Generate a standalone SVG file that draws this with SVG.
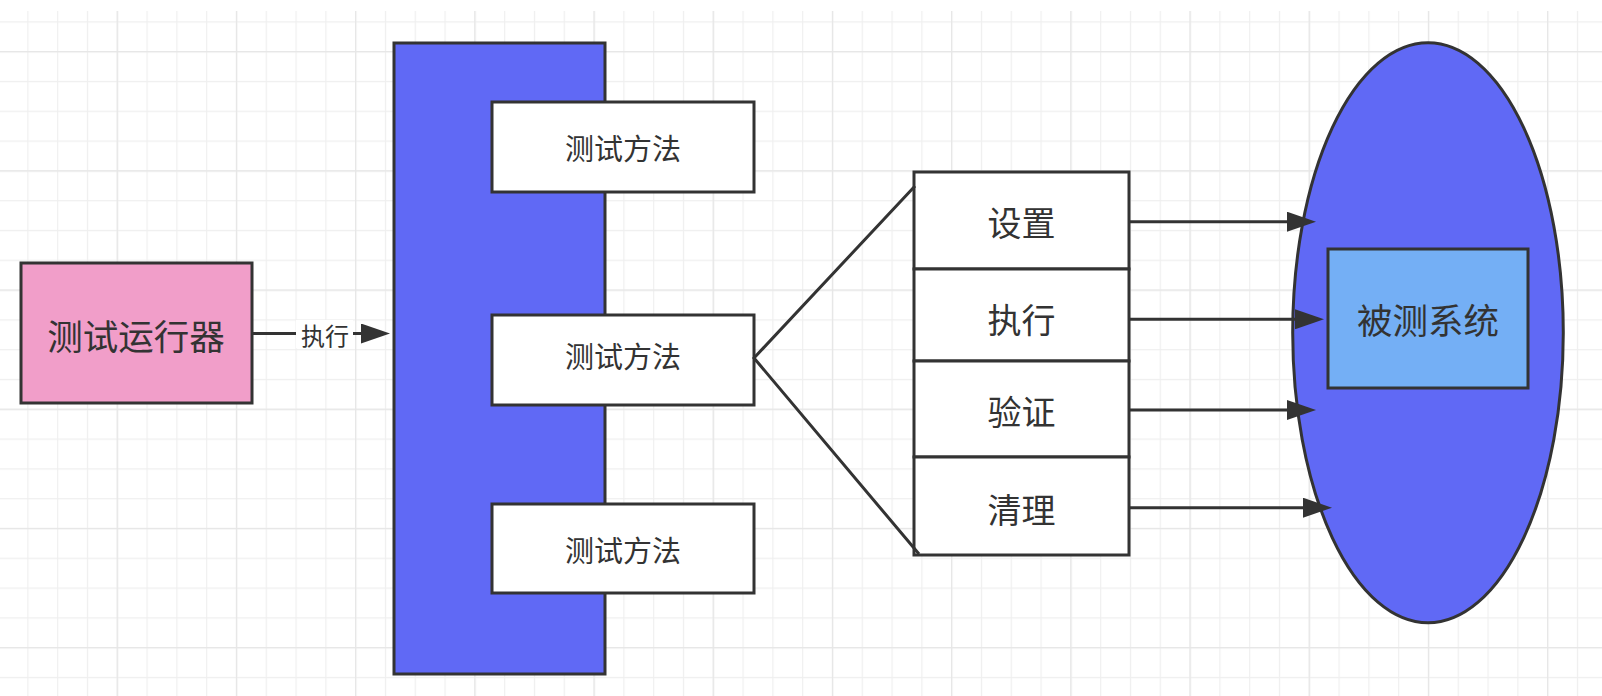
<svg xmlns="http://www.w3.org/2000/svg" width="1602" height="696" viewBox="0 0 1602 696">
  <defs>
    <pattern id="gMinor" x="27.3" y="21.3" width="29.8" height="29.8" patternUnits="userSpaceOnUse">
      <path d="M0.6 0V29.8M0 0.6H29.8" stroke="#efefef" stroke-width="1.2" fill="none"/>
    </pattern>
    <pattern id="gMajor" x="116.7" y="51.1" width="119.2" height="119.2" patternUnits="userSpaceOnUse">
      <path d="M0.6 0V119.2M0 0.6H119.2" stroke="#e6e6e6" stroke-width="1.3" fill="none"/>
    </pattern>
    <marker id="arr" markerUnits="userSpaceOnUse" markerWidth="30" markerHeight="20" viewBox="0 0 30 20" refX="1" refY="10" orient="auto">
      <path d="M0 0L29 10L0 20Z" fill="#333333"/>
    </marker>
    <style>
      .box{stroke:#333333;stroke-width:3}
      .txt{font-family:"Noto Sans CJK SC","Noto Sans",sans-serif;fill:#333333;text-anchor:middle;dominant-baseline:central}
      .big{font-size:34px}
      .xl{font-size:35.5px}
      .mid{font-size:29px}
      .sm{font-size:24px}
      .conn{stroke:#333333;stroke-width:3;fill:none}
    </style>
  </defs>
  <rect width="1602" height="696" fill="#ffffff"/>
  <g id="grid">
    <rect x="0" y="11" width="1602" height="685" fill="url(#gMinor)"/>
    <rect x="0" y="11" width="1602" height="685" fill="url(#gMajor)"/>
  </g>

  <g id="runner">
    <rect class="box" x="21" y="263" width="231" height="140" fill="#f19ec9"/>
    <text class="txt xl" x="136" y="334">测试运行器</text>
  </g>

  <g id="testcase">
    <rect class="box" x="394" y="43" width="211" height="631" fill="#6069f5"/>
  </g>
  <g id="method1">
    <rect class="box" x="492" y="102" width="262" height="90" fill="#ffffff"/>
    <text class="txt mid" x="623" y="147">测试方法</text>
  </g>
  <g id="method2">
    <rect class="box" x="492" y="315" width="262" height="90" fill="#ffffff"/>
    <text class="txt mid" x="623" y="355">测试方法</text>
  </g>
  <g id="method3">
    <rect class="box" x="492" y="504" width="262" height="89" fill="#ffffff"/>
    <text class="txt mid" x="623" y="549">测试方法</text>
  </g>

  <g id="sut-env">
    <ellipse class="box" cx="1428" cy="332.7" rx="135.3" ry="290" fill="#6069f5" stroke-width="2.5"/>
  </g>
  <g id="sut">
    <rect class="box" x="1328" y="249" width="200" height="139" fill="#74aff5"/>
    <text class="txt xl" x="1428" y="318.5">被测系统</text>
  </g>

  <g id="phase-setup">
    <rect class="box" x="914" y="172" width="215" height="97" fill="#ffffff"/>
    <text class="txt big" x="1021.5" y="221.5">设置</text>
  </g>
  <g id="phase-exercise">
    <rect class="box" x="914" y="269" width="215" height="92" fill="#ffffff"/>
    <text class="txt big" x="1021.5" y="318">执行</text>
  </g>
  <g id="phase-verify">
    <rect class="box" x="914" y="361" width="215" height="96" fill="#ffffff"/>
    <text class="txt big" x="1021.5" y="410">验证</text>
  </g>
  <g id="phase-teardown">
    <rect class="box" x="914" y="457" width="215" height="98" fill="#ffffff"/>
    <text class="txt big" x="1021.5" y="508">清理</text>
  </g>

  <g id="connectors">
    <path class="conn" d="M252 333.5H362" marker-end="url(#arr)"/>
    <rect x="296" y="320" width="57" height="28" fill="#ffffff"/>
    <text class="txt sm" x="325" y="334.5">执行</text>
    <path class="conn" d="M915 186L754 358L919 554"/>
    <path class="conn" d="M1130 221.7H1288" marker-end="url(#arr)"/>
    <path class="conn" d="M1130 319.3H1296" marker-end="url(#arr)"/>
    <path class="conn" d="M1130 410H1288" marker-end="url(#arr)"/>
    <path class="conn" d="M1130 507.7H1304" marker-end="url(#arr)"/>
  </g>
</svg>
